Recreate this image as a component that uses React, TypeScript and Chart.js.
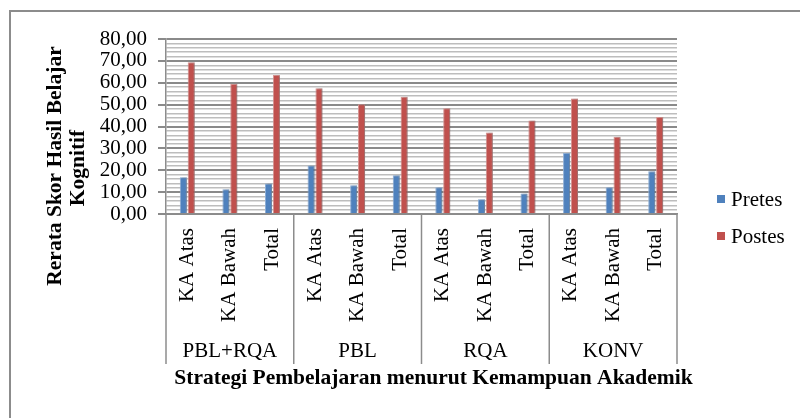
import React, { useEffect, useRef } from "react";
import { Chart, registerables } from "chart.js";

Chart.register(...registerables);

const groups = ["PBL+RQA", "PBL", "RQA", "KONV"];
const subLabels = ["KA Atas", "KA Bawah", "Total"];
const seriesNames = ["Pretes", "Postes"];
const pretes = [16.8, 11.3, 14.0, 22.2, 13.1, 17.7, 12.2, 6.7, 9.4, 27.9, 12.2, 19.5];
const postes = [69.4, 59.4, 63.6, 57.5, 50.2, 53.6, 48.3, 37.3, 42.8, 52.8, 35.3, 44.4];
const yMin = 0;
const yMax = 80;
const yMinorStep = 2;
const yMajorStep = 10;
const xTitle = "Strategi Pembelajaran menurut Kemampuan Akademik";
const yTitleLines = ["Rerata Skor Hasil Belajar", "Kognitif"];

const colors = ["#4F81BD", "#C0504D"];
const edgeColors = ["#8fb0d8", "#d99593"];
const FONT = "'Liberation Serif', 'Times New Roman', serif";

const categories: string[] = [];
groups.forEach(() => subLabels.forEach((s) => categories.push(s)));

const isMajor = (c: any) => c.tick && Math.round(c.tick.value) % yMajorStep === 0;

const decorPlugin = {
  id: "decor",
  beforeDatasetsDraw(chart: any) {
    const ctx = chart.ctx;
    ctx.save();
    ctx.shadowColor = "rgba(0,0,0,0.3)";
    ctx.shadowBlur = 2;
    ctx.shadowOffsetX = 1.5;
    ctx.shadowOffsetY = 0;
  },
  afterDatasetsDraw(chart: any) {
    chart.ctx.restore();
  },
  afterDraw(chart: any) {
    const ctx = chart.ctx;
    const xs = chart.scales.x;
    const area = chart.chartArea;
    const half = (xs.getPixelForValue(1) - xs.getPixelForValue(0)) / 2;
    const n = subLabels.length;
    const dividerBottom = area.bottom + 150;
    ctx.save();
    ctx.strokeStyle = "#8c8c8c";
    ctx.lineWidth = 1.5;
    const bounds: number[] = [];
    for (let g = 0; g <= groups.length; g++) {
      const px =
        g < groups.length
          ? xs.getPixelForValue(g * n) - half
          : xs.getPixelForValue(g * n - 1) + half;
      bounds.push(px);
      ctx.beginPath();
      ctx.moveTo(px, area.bottom);
      ctx.lineTo(px, dividerBottom);
      ctx.stroke();
    }
    ctx.fillStyle = "#000";
    ctx.font = `21px ${FONT}`;
    ctx.textAlign = "center";
    ctx.textBaseline = "alphabetic";
    groups.forEach((gname, g) => {
      ctx.fillText(gname, (bounds[g] + bounds[g + 1]) / 2, area.bottom + 143);
    });
    // x title
    ctx.font = `bold 21.5px ${FONT}`;
    ctx.fillText(xTitle, (area.left + area.right) / 2 + 12, area.bottom + 170);
    // y title
    ctx.save();
    ctx.translate(55, 166);
    ctx.rotate(-Math.PI / 2);
    ctx.textBaseline = "middle";
    ctx.fillText(yTitleLines[0], 0, 0);
    ctx.fillText(yTitleLines[1], -2, 23);
    ctx.restore();
    // legend
    ctx.font = `21px ${FONT}`;
    ctx.textAlign = "left";
    seriesNames.forEach((name, i) => {
      const y = 206 + i * 37;
      ctx.fillStyle = colors[i];
      ctx.fillRect(717, y - 11, 8, 8);
      ctx.fillStyle = "#000";
      ctx.fillText(name, 731, y);
    });
    ctx.restore();
  },
};

export default function App() {
  const ref = useRef<HTMLCanvasElement | null>(null);
  useEffect(() => {
    if (!ref.current) return;
    const chart = new Chart(ref.current, {
      type: "bar",
      data: {
        labels: categories,
        datasets: [
          {
            label: seriesNames[0],
            data: pretes,
            backgroundColor: colors[0],
            borderColor: edgeColors[0],
            borderWidth: { left: 1, right: 1, top: 1, bottom: 0 },
          },
          {
            label: seriesNames[1],
            data: postes,
            backgroundColor: colors[1],
            borderColor: edgeColors[1],
            borderWidth: { left: 1, right: 1, top: 1, bottom: 0 },
          },
        ],
      },
      options: {
        animation: false,
        responsive: false,
        maintainAspectRatio: false,
        layout: { padding: { top: 39, right: 123, bottom: 0, left: 0 } },
        datasets: { bar: { categoryPercentage: 0.37, barPercentage: 0.9 } } as any,
        plugins: { legend: { display: false }, tooltip: { enabled: false } },
        scales: {
          x: {
            grid: { display: false, drawTicks: false },
            border: { display: true, color: "#8c8c8c", width: 1.5 },
            ticks: {
              autoSkip: false,
              minRotation: 90,
              maxRotation: 90,
              padding: 14,
              color: "#000",
              font: { family: FONT, size: 21 },
            },
            afterFit: (s: any) => {
              s.height = 204;
            },
          },
          y: {
            min: yMin,
            max: yMax,
            border: { display: true, color: "#8c8c8c", width: 1.5 },
            grid: {
              color: (c: any) => (isMajor(c) ? "#8a8a8a" : "#bdbdbd"),
              lineWidth: (c: any) => (isMajor(c) ? 2 : 1.5),
              tickColor: (c: any) => (isMajor(c) ? "#8a8a8a" : "rgba(0,0,0,0)"),
              tickLength: 8,
            },
            ticks: {
              stepSize: yMinorStep,
              autoSkip: false,
              padding: 11,
              color: "#000",
              font: { family: FONT, size: 21 },
              callback: (v: any) =>
                Math.round(v) % yMajorStep === 0 ? Number(v).toFixed(2).replace(".", ",") : "",
            },
            afterFit: (s: any) => {
              s.width = 166;
            },
          },
        },
      },
      plugins: [decorPlugin],
    });
    return () => chart.destroy();
  }, []);

  return (
    <div style={{ position: "fixed", left: 0, top: 0, width: 800, height: 418, overflow: "hidden", background: "#fff" }}>
      <div
        style={{
          position: "absolute",
          left: 9,
          top: 10,
          width: 900,
          height: 500,
          border: "2px solid #8c8c8c",
        }}
      />
      <canvas ref={ref} width={800} height={418} style={{ position: "absolute", left: 0, top: 0 }} />
    </div>
  );
}
